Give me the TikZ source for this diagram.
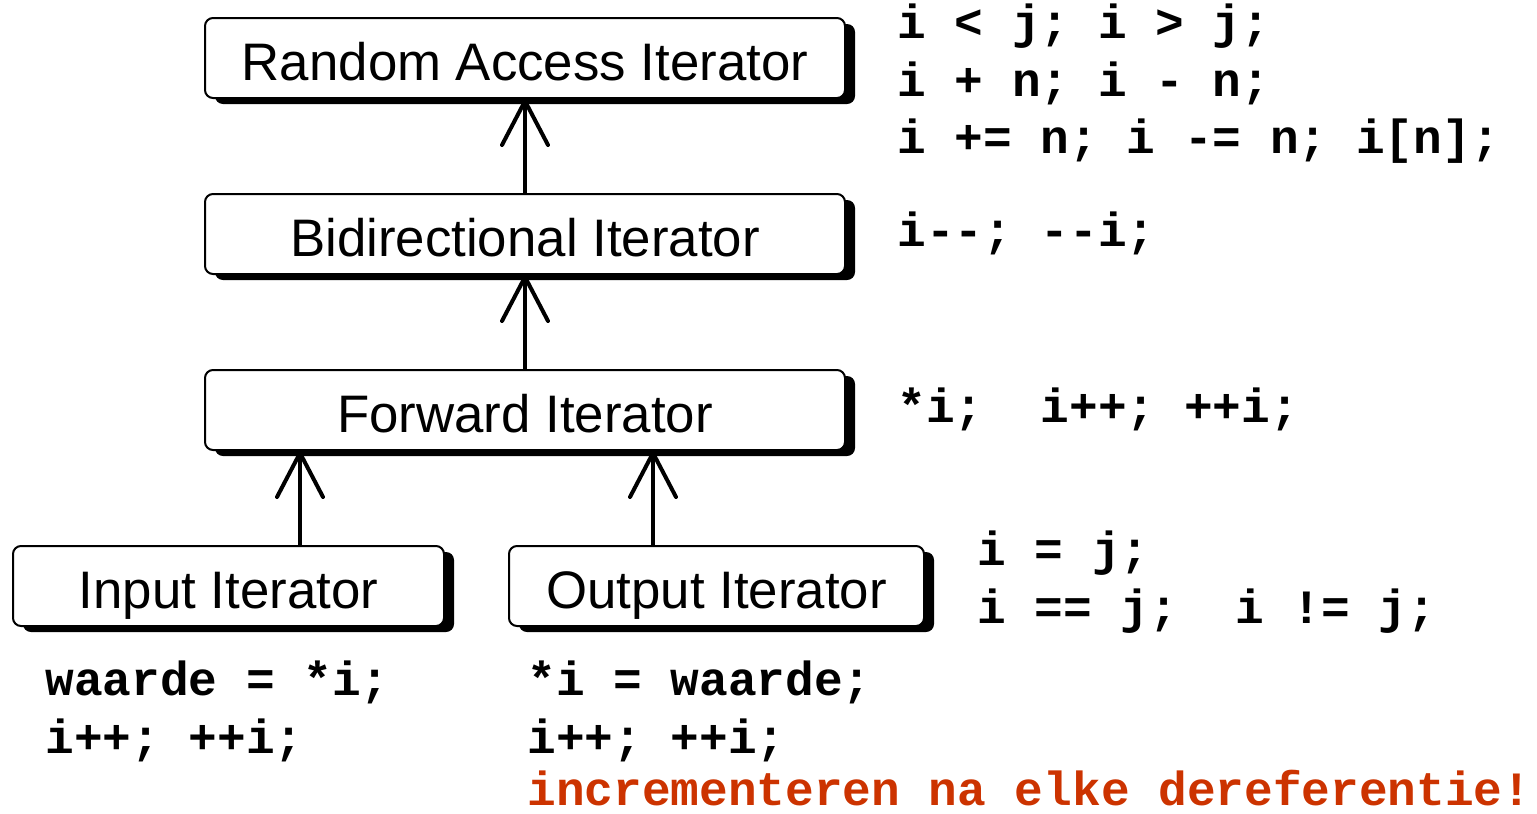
\documentclass[tikz,border=0pt]{standalone}
\usepackage{fontspec}
\setmainfont{Liberation Sans}
\setmonofont{Liberation Mono}
\usetikzlibrary{arrows.meta,shadows}
\definecolor{noteorange}{HTML}{CC3300}

\tikzset{
  iterbox/.style={draw, line width=1pt, rounded corners=4pt, fill=white,
    minimum height=40pt, inner sep=0pt, text height=26pt, text depth=4pt,
    font=\fontsize{26.4}{30}\selectfont,
    drop shadow={shadow xshift=5pt, shadow yshift=-3pt, opacity=1, fill=black}},
  code/.style={anchor=base west, inner sep=0pt,
    font=\fontsize{23.9}{28.5}\selectfont\ttfamily\bfseries\frenchspacing},
  isa/.style={line width=2pt, -{Straight Barb[length=22pt,width=23pt,round]}},
}

\begin{document}
\begin{tikzpicture}[x=0.5pt, y=-0.5pt]
  \useasboundingbox (0,0) rectangle (1537,814);

  % ---- iterator categories ---------------------------------------------
  \node[iterbox, minimum width=320pt] (rai)  at (525,58)  {Random Access Iterator};
  \node[iterbox, minimum width=320pt] (bidi) at (525,234) {Bidirectional Iterator};
  \node[iterbox, minimum width=320pt] (fwd)  at (525,410) {Forward Iterator};
  \node[iterbox, minimum width=215.5pt] (inp)  at (228.5,586) {Input Iterator};
  \node[iterbox, minimum width=207.5pt] (outp) at (716.5,586) {Output Iterator};

  % ---- refinement arrows -----------------------------------------------
  \draw[isa] (bidi.north) -- (rai.south);
  \draw[isa] (fwd.north) -- (bidi.south);
  \draw[isa] ([xshift=35.75pt]inp.north) -- ([xshift=35.75pt]inp.north |- fwd.south);
  \draw[isa] ([xshift=-31.75pt]outp.north) -- ([xshift=-31.75pt]outp.north |- fwd.south);

  % ---- operations per category -----------------------------------------
  \node[code] (raiops1) at (897,38)  {i < j; i > j;};
  \node[code] (raiops2) at (897,96)  {i + n; i - n;};
  \node[code] (raiops3) at (897,153) {i += n; i -= n; i[n];};

  \node[code] (bidiops) at (897,246) {i-{}-; -{}-i;};
  \node[code] (fwdops)  at (897,422) {*i;~~i++; ++i;};

  \node[code] (eqops1) at (977,565) {i = j;};
  \node[code] (eqops2) at (977,623) {i == j;~~i != j;};

  \node[code] (inops1) at (45,695) {waarde = *i;};
  \node[code] (inops2) at (45,753) {i++; ++i;};

  \node[code] (outops1) at (527,695) {*i = waarde;};
  \node[code] (outops2) at (527,753) {i++; ++i;};
  \node[code, text=noteorange] (outnote) at (527,805) {incrementeren na elke dereferentie!};
\end{tikzpicture}
\end{document}
